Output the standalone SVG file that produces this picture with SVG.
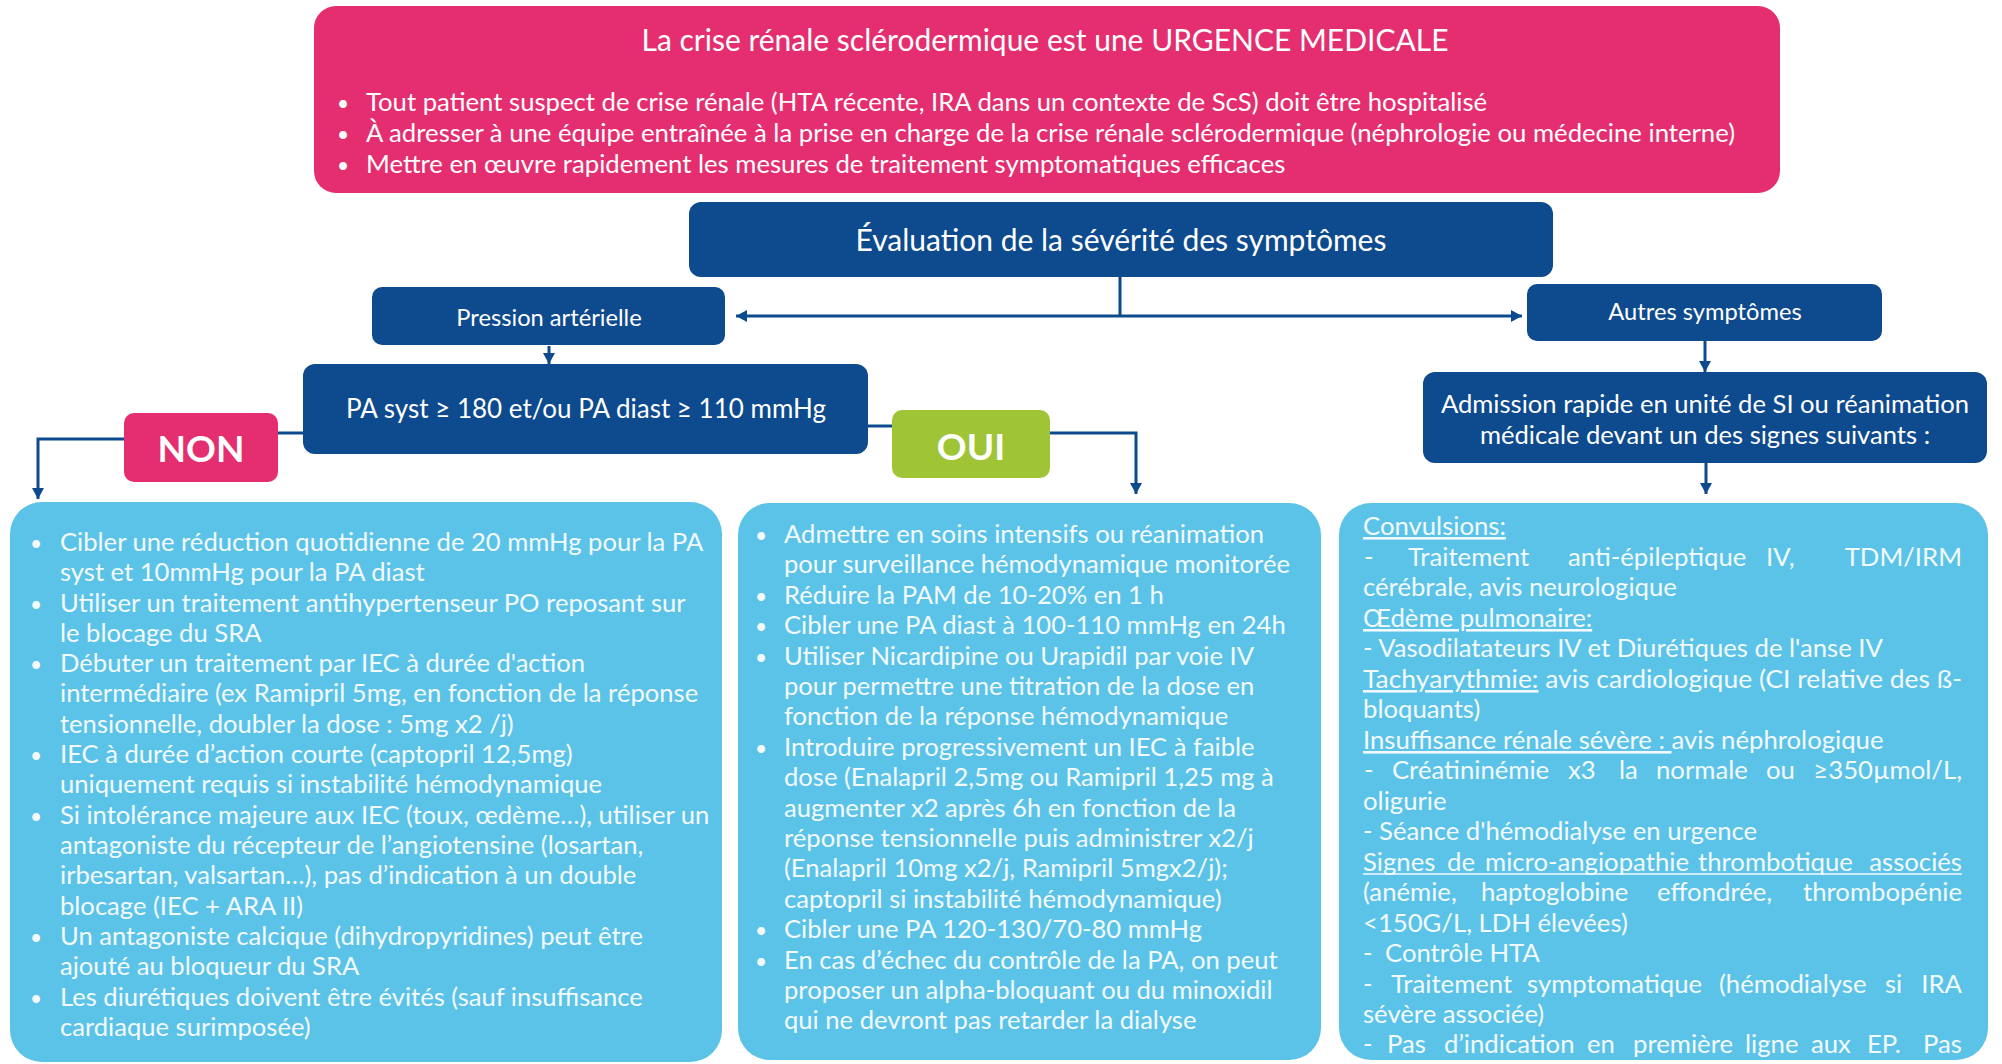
<svg xmlns="http://www.w3.org/2000/svg" width="2002" height="1064" viewBox="0 0 2002 1064">
<defs>
<style>
.bg{fill:#ffffff}
.pink{fill:#E52E70}
.navy{fill:#0E4A8E}
.green{fill:#9FC537}
.sky{fill:#5CC3E8}
text{font-family:Lato,"Open Sans","Liberation Sans",sans-serif;}
.wt{fill:#ffffff}
.lt{fill:#F3FAFE;font-size:25.6px}
.rt{fill:#F3FAFE;font-size:25.7px}
.bl{font-size:21px}
.u{text-decoration:underline}
.conn{fill:none;stroke:#0E4A8E;stroke-width:3}
.big{font-weight:bold;font-size:37px;fill:#ffffff;text-anchor:middle}
</style>
<marker id="ah" markerUnits="userSpaceOnUse" markerWidth="12" markerHeight="12" refX="11" refY="6" orient="auto">
<path d="M0,0 L11,6 L0,12 z" fill="#0E4A8E"/>
</marker>
</defs>
<rect class="bg" x="0" y="0" width="2002" height="1064"/>

<g id="connectors">
<path class="conn" d="M1120,277 V316"/>
<path class="conn" d="M1120,316 H736" marker-end="url(#ah)"/>
<path class="conn" d="M1120,316 H1522" marker-end="url(#ah)"/>
<path class="conn" d="M549,346 V364" marker-end="url(#ah)"/>
<path class="conn" d="M1705,341 V372" marker-end="url(#ah)"/>
<path class="conn" d="M1706,463 V494" marker-end="url(#ah)"/>
<path class="conn" d="M305,433 H276"/>
<path class="conn" d="M126,439 H38 V499" marker-end="url(#ah)"/>
<path class="conn" d="M866,426 H895"/>
<path class="conn" d="M1048,433 H1136 V494" marker-end="url(#ah)"/>
</g>

<g id="urgence">
<rect class="pink" x="314" y="6" width="1466" height="187" rx="22"/>
<text class="wt" x="1045" y="51" font-size="30" text-anchor="middle">La crise rénale sclérodermique est une URGENCE MEDICALE</text>
<g class="wt" font-size="25.7">
<text class="bl" x="337" y="111">•</text><text x="366" y="111">Tout patient suspect de crise rénale (HTA récente, IRA dans un contexte de ScS) doit être hospitalisé</text>
<text class="bl" x="337" y="142">•</text><text x="366" y="142">À adresser à une équipe entraînée à la prise en charge de la crise rénale sclérodermique (néphrologie ou médecine interne)</text>
<text class="bl" x="337" y="173">•</text><text x="366" y="173">Mettre en œuvre rapidement les mesures de traitement symptomatiques efficaces</text>
</g>
</g>

<g id="evaluation">
<rect class="navy" x="689" y="202" width="864" height="75" rx="12"/>
<text class="wt" x="1121" y="251" font-size="30" text-anchor="middle">Évaluation de la sévérité des symptômes</text>
</g>

<g id="pression">
<rect class="navy" x="372" y="287" width="353" height="58" rx="10"/>
<text class="wt" x="549" y="326" font-size="23.7" text-anchor="middle">Pression artérielle</text>
</g>

<g id="autres">
<rect class="navy" x="1527" y="284" width="355" height="57" rx="10"/>
<text class="wt" x="1705" y="320" font-size="23.7" text-anchor="middle">Autres symptômes</text>
</g>

<g id="pa-seuil">
<rect class="navy" x="303" y="364" width="565" height="90" rx="12"/>
<text class="wt" x="586" y="418" font-size="26" text-anchor="middle">PA syst ≥ 180 et/ou PA diast ≥ 110 mmHg</text>
</g>

<g id="admission">
<rect class="navy" x="1423" y="372" width="564" height="91" rx="12"/>
<text class="wt" x="1705" y="413" font-size="25.6" text-anchor="middle">Admission rapide en unité de SI ou réanimation</text>
<text class="wt" x="1705" y="444" font-size="25.6" text-anchor="middle">médicale devant un des signes suivants :</text>
</g>

<g id="non">
<rect class="pink" x="124" y="413" width="154" height="69" rx="10"/>
<text class="big" x="201" y="462">NON</text>
</g>

<g id="oui">
<rect class="green" x="892" y="410" width="158" height="68" rx="10"/>
<text class="big" x="971" y="460">OUI</text>
</g>

<g id="non-actions">
<rect class="sky" x="10" y="502" width="712" height="560" rx="32"/>
<g class="lt">
<text class="bl" x="30" y="551">•</text><text x="60" y="551">Cibler une réduction quotidienne de 20 mmHg pour la PA</text>
<text x="60" y="581">syst et 10mmHg pour la PA diast</text>
<text class="bl" x="30" y="612">•</text><text x="60" y="612">Utiliser un traitement antihypertenseur PO reposant sur</text>
<text x="60" y="642">le blocage du SRA</text>
<text class="bl" x="30" y="672">•</text><text x="60" y="672">Débuter un traitement par IEC à durée d'action</text>
<text x="60" y="702">intermédiaire (ex Ramipril 5mg, en fonction de la réponse</text>
<text x="60" y="733">tensionnelle, doubler la dose : 5mg x2 /j)</text>
<text class="bl" x="30" y="763">•</text><text x="60" y="763">IEC à durée d’action courte (captopril 12,5mg)</text>
<text x="60" y="793">uniquement requis si instabilité hémodynamique</text>
<text class="bl" x="30" y="824">•</text><text x="60" y="824">Si intolérance majeure aux IEC (toux, œdème…), utiliser un</text>
<text x="60" y="854">antagoniste du récepteur de l’angiotensine (losartan,</text>
<text x="60" y="884">irbesartan, valsartan…), pas d’indication à un double</text>
<text x="60" y="915">blocage (IEC + ARA II)</text>
<text class="bl" x="30" y="945">•</text><text x="60" y="945">Un antagoniste calcique (dihydropyridines) peut être</text>
<text x="60" y="975">ajouté au bloqueur du SRA</text>
<text class="bl" x="30" y="1006">•</text><text x="60" y="1006">Les diurétiques doivent être évités (sauf insuffisance</text>
<text x="60" y="1036">cardiaque surimposée)</text>
</g>
</g>

<g id="oui-actions">
<rect class="sky" x="738" y="503" width="583" height="557" rx="32"/>
<g class="lt">
<text class="bl" x="755" y="543">•</text><text x="784" y="543">Admettre en soins intensifs ou réanimation</text>
<text x="784" y="573">pour surveillance hémodynamique monitorée</text>
<text class="bl" x="755" y="604">•</text><text x="784" y="604">Réduire la PAM de 10-20% en 1 h</text>
<text class="bl" x="755" y="634">•</text><text x="784" y="634">Cibler une PA diast à 100-110 mmHg en 24h</text>
<text class="bl" x="755" y="665">•</text><text x="784" y="665">Utiliser Nicardipine ou Urapidil par voie IV</text>
<text x="784" y="695">pour permettre une titration de la dose en</text>
<text x="784" y="725">fonction de la réponse hémodynamique</text>
<text class="bl" x="755" y="756">•</text><text x="784" y="756">Introduire progressivement un IEC à faible</text>
<text x="784" y="786">dose (Enalapril 2,5mg ou Ramipril 1,25 mg à</text>
<text x="784" y="817">augmenter x2 après 6h en fonction de la</text>
<text x="784" y="847">réponse tensionnelle puis administrer x2/j</text>
<text x="784" y="877">(Enalapril 10mg x2/j, Ramipril 5mgx2/j);</text>
<text x="784" y="908">captopril si instabilité hémodynamique)</text>
<text class="bl" x="755" y="938">•</text><text x="784" y="938">Cibler une PA 120-130/70-80 mmHg</text>
<text class="bl" x="755" y="969">•</text><text x="784" y="969">En cas d’échec du contrôle de la PA, on peut</text>
<text x="784" y="999">proposer un alpha-bloquant ou du minoxidil</text>
<text x="784" y="1029">qui ne devront pas retarder la dialyse</text>
</g>
</g>

<g id="signes">
<rect class="sky" x="1339" y="503" width="649" height="557" rx="32"/>
<g class="rt">
<text x="1363" y="535" class="u">Convulsions:</text>
<text y="566"><tspan x="1364">-</tspan><tspan x="1408">Traitement</tspan><tspan x="1568">anti-épileptique</tspan><tspan x="1766">IV,</tspan><tspan x="1962" text-anchor="end">TDM/IRM</tspan></text>
<text x="1363" y="596">cérébrale, avis neurologique</text>
<text x="1363" y="627" class="u">Œdème pulmonaire:</text>
<text x="1363" y="657">- Vasodilatateurs IV et Diurétiques de l'anse IV</text>
<text x="1363" y="688" textLength="599" lengthAdjust="spacingAndGlyphs"><tspan class="u">Tachyarythmie:</tspan> avis cardiologique (CI relative des ß-</text>
<text x="1363" y="718">bloquants)</text>
<text x="1363" y="749"><tspan class="u">Insuffisance rénale sévère :&#160;</tspan>avis néphrologique</text>
<text y="779"><tspan x="1364">-</tspan><tspan x="1392">Créatininémie</tspan><tspan x="1568">x3</tspan><tspan x="1619">la</tspan><tspan x="1656">normale</tspan><tspan x="1766">ou</tspan><tspan x="1962" text-anchor="end">≥350µmol/L,</tspan></text>
<text x="1363" y="810">oligurie</text>
<text x="1363" y="840">- Séance d'hémodialyse en urgence</text>
<text y="871"><tspan x="1363">Signes</tspan><tspan x="1447">de</tspan><tspan x="1485">micro-angiopathie</tspan><tspan x="1698">thrombotique</tspan><tspan x="1962" text-anchor="end">associés</tspan></text>
<line x1="1363" y1="874" x2="1962" y2="874" stroke="#F3FAFE" stroke-width="1.7"/>
<text y="901"><tspan x="1363">(anémie,</tspan><tspan x="1481">haptoglobine</tspan><tspan x="1657">effondrée,</tspan><tspan x="1962" text-anchor="end">thrombopénie</tspan></text>
<text x="1363" y="932">&lt;150G/L, LDH élevées)</text>
<text y="962"><tspan x="1363">-</tspan><tspan x="1385">Contrôle HTA</tspan></text>
<text y="993"><tspan x="1363">-</tspan><tspan x="1391">Traitement</tspan><tspan x="1527">symptomatique</tspan><tspan x="1719">(hémodialyse</tspan><tspan x="1885">si</tspan><tspan x="1962" text-anchor="end">IRA</tspan></text>
<text x="1363" y="1023">sévère associée)</text>
<text y="1053"><tspan x="1363">-</tspan><tspan x="1387">Pas</tspan><tspan x="1444">d’indication</tspan><tspan x="1587">en</tspan><tspan x="1633">première</tspan><tspan x="1745">ligne</tspan><tspan x="1811">aux</tspan><tspan x="1867">EP.</tspan><tspan x="1962" text-anchor="end">Pas</tspan></text>
</g>
</g>
</svg>
